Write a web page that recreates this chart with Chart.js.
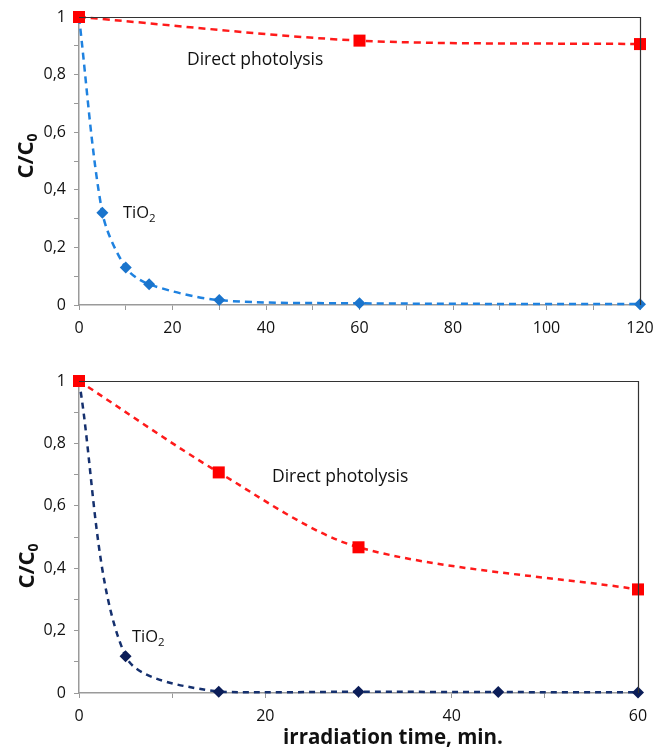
<!DOCTYPE html>
<html><head><meta charset="utf-8">
<script src="https://cdn.jsdelivr.net/npm/chart.js@4"></script>
<style>
body{margin:0;background:#fff;width:656px;height:750px;position:relative;overflow:hidden}
canvas{position:absolute;left:0}
#c1{top:0}#c2{top:345px}
</style></head><body>
<canvas id="c1" width="656" height="345"></canvas>
<canvas id="c2" width="656" height="405"></canvas>
<script>
// ---- data ----
const topPhotolysisTime = [0, 60, 120];
const topPhotolysis     = [1, 0.918, 0.906];
const topTiO2Time       = [0, 5, 10, 15, 30, 60, 120];
const topTiO2           = [1, 0.32, 0.13, 0.072, 0.017, 0.006, 0.003];

const botPhotolysisTime = [0, 15, 30, 60];
const botPhotolysis     = [1, 0.707, 0.467, 0.332];
const botTiO2Time       = [0, 5, 15, 30, 45, 60];
const botTiO2           = [1, 0.118, 0.004, 0.004, 0.003, 0.002];

const yTickLabels   = {0:'0', 2:'0,2', 4:'0,4', 6:'0,6', 8:'0,8', 10:'1'};
const topXLabels    = [0, 20, 40, 60, 80, 100, 120];
const botXLabels    = [0, 20, 40, 60];
const yTitle = 'C/C';
const xTitle = 'irradiation time, min.';
const labelPhotolysis = 'Direct photolysis';
const labelTiO2 = 'TiO';

const FONT = "'Open Sans', sans-serif";
const pts = (xs, ys) => xs.map((x, i) => ({x, y: ys[i]}));

const overlay = {
  id: 'overlay',
  afterDraw(chart, args, o) {
    const {ctx, chartArea: a} = chart;
    ctx.save();
    // top/right frame
    ctx.strokeStyle = '#333'; ctx.lineWidth = 1.2;
    ctx.beginPath();
    ctx.moveTo(a.left, a.top + 0.5); ctx.lineTo(a.right + 0.5, a.top + 0.5); ctx.lineTo(a.right + 0.5, a.bottom);
    ctx.stroke();
    ctx.fillStyle = '#111';
    ctx.textBaseline = 'middle';
    // annotations
    ctx.font = "17.5px " + FONT; ctx.textAlign = 'left';
    ctx.fillText(labelPhotolysis, o.photo[0], o.photo[1]);
    ctx.font = "16.5px " + FONT;
    ctx.fillText(labelTiO2, o.tio2[0], o.tio2[1]);
    const w = ctx.measureText(labelTiO2).width;
    ctx.font = "11.5px " + FONT;
    ctx.fillText('2', o.tio2[0] + w, o.tio2[1] + 6);
    // y title rotated with subscript 0
    ctx.translate(o.ytitle[0], o.ytitle[1]);
    ctx.rotate(-Math.PI / 2);
    ctx.font = "bold 22px " + FONT; ctx.textAlign = 'left';
    const tw = ctx.measureText(yTitle).width;
    ctx.fillText(yTitle, -tw / 2 - 5, 0);
    ctx.font = "bold 14px " + FONT;
    ctx.fillText('0', tw / 2 - 5, 6);
    ctx.setTransform(1, 0, 0, 1, 0, 0);
    if (o.xtitle) {
      ctx.font = "bold 20.5px " + FONT; ctx.textAlign = 'center';
      ctx.fillText(xTitle, o.xtitle[0], o.xtitle[1]);
    }
    ctx.restore();
  }
};

function makeChart(id, photoData, tioData, xMax, xLabels, tioLine, tioPoint, dash, lw, pad, xAxisH, ov) {
  return new Chart(document.getElementById(id), {
    type: 'scatter',
    data: {datasets: [
      {label: labelPhotolysis, data: photoData, showLine: true, tension: 0.3,
       borderColor: '#ff1a1a', borderWidth: lw, borderDash: dash,
       pointStyle: 'rect', pointRadius: 8.5, pointBackgroundColor: '#ff0000', pointBorderColor: '#ff0000', pointBorderWidth: 0,
       clip: false},
      {label: labelTiO2, data: tioData, showLine: true, tension: 0.3,
       borderColor: tioLine, borderWidth: lw, borderDash: dash,
       pointStyle: 'rectRot', pointRadius: 6, pointBackgroundColor: tioPoint, pointBorderColor: tioPoint, pointBorderWidth: 0,
       clip: false}
    ]},
    options: {
      responsive: false, animation: false, devicePixelRatio: 1,
      layout: {padding: pad},
      plugins: {legend: {display: false}, tooltip: {enabled: false}, overlay: ov},
      scales: {
        x: {type: 'linear', min: 0, max: xMax,
            afterFit: s => { s.height = xAxisH; s.paddingLeft = 0; s.paddingRight = 0; },
            grid: {drawOnChartArea: false, drawTicks: true, tickLength: 5, color: '#999'},
            border: {color: '#9a9a9a', width: 1.5},
            ticks: {stepSize: 10, autoSkip: false, maxRotation: 0, padding: 9, color: '#111',
                    font: {family: FONT, size: 16},
                    callback: v => xLabels.includes(v) ? String(v) : ''}},
        y: {type: 'linear', min: 0, max: 1,
            afterFit: s => { s.width = 79; s.paddingTop = 0; s.paddingBottom = 0; },
            grid: {drawOnChartArea: false, drawTicks: true, tickLength: 5, color: '#999'},
            border: {color: '#9a9a9a', width: 1.5},
            ticks: {stepSize: 0.1, autoSkip: false, padding: 8, color: '#111',
                    font: {family: FONT, size: 16},
                    callback: v => { const k = Math.round(v * 10); return yTickLabels[k] !== undefined ? yTickLabels[k] : ''; }}}
      }
    },
    plugins: [overlay]
  });
}

makeChart('c1', pts(topPhotolysisTime, topPhotolysis), pts(topTiO2Time, topTiO2), 120, topXLabels,
  '#1f82e0', '#1a74cc', [7, 5], 2.5, {top: 17, right: 16, left: 0, bottom: 0}, 40,
  {photo: [187, 60], tio2: [123, 213], ytitle: [27, 155]});
makeChart('c2', pts(botPhotolysisTime, botPhotolysis), pts(botTiO2Time, botTiO2), 60, botXLabels,
  '#15306e', '#0b1d58', [6, 5], 2.5, {top: 36, right: 18, left: 0, bottom: 0}, 57,
  {photo: [272, 132], tio2: [132, 292], ytitle: [28, 220], xtitle: [393, 393]});
</script>
</body></html>
